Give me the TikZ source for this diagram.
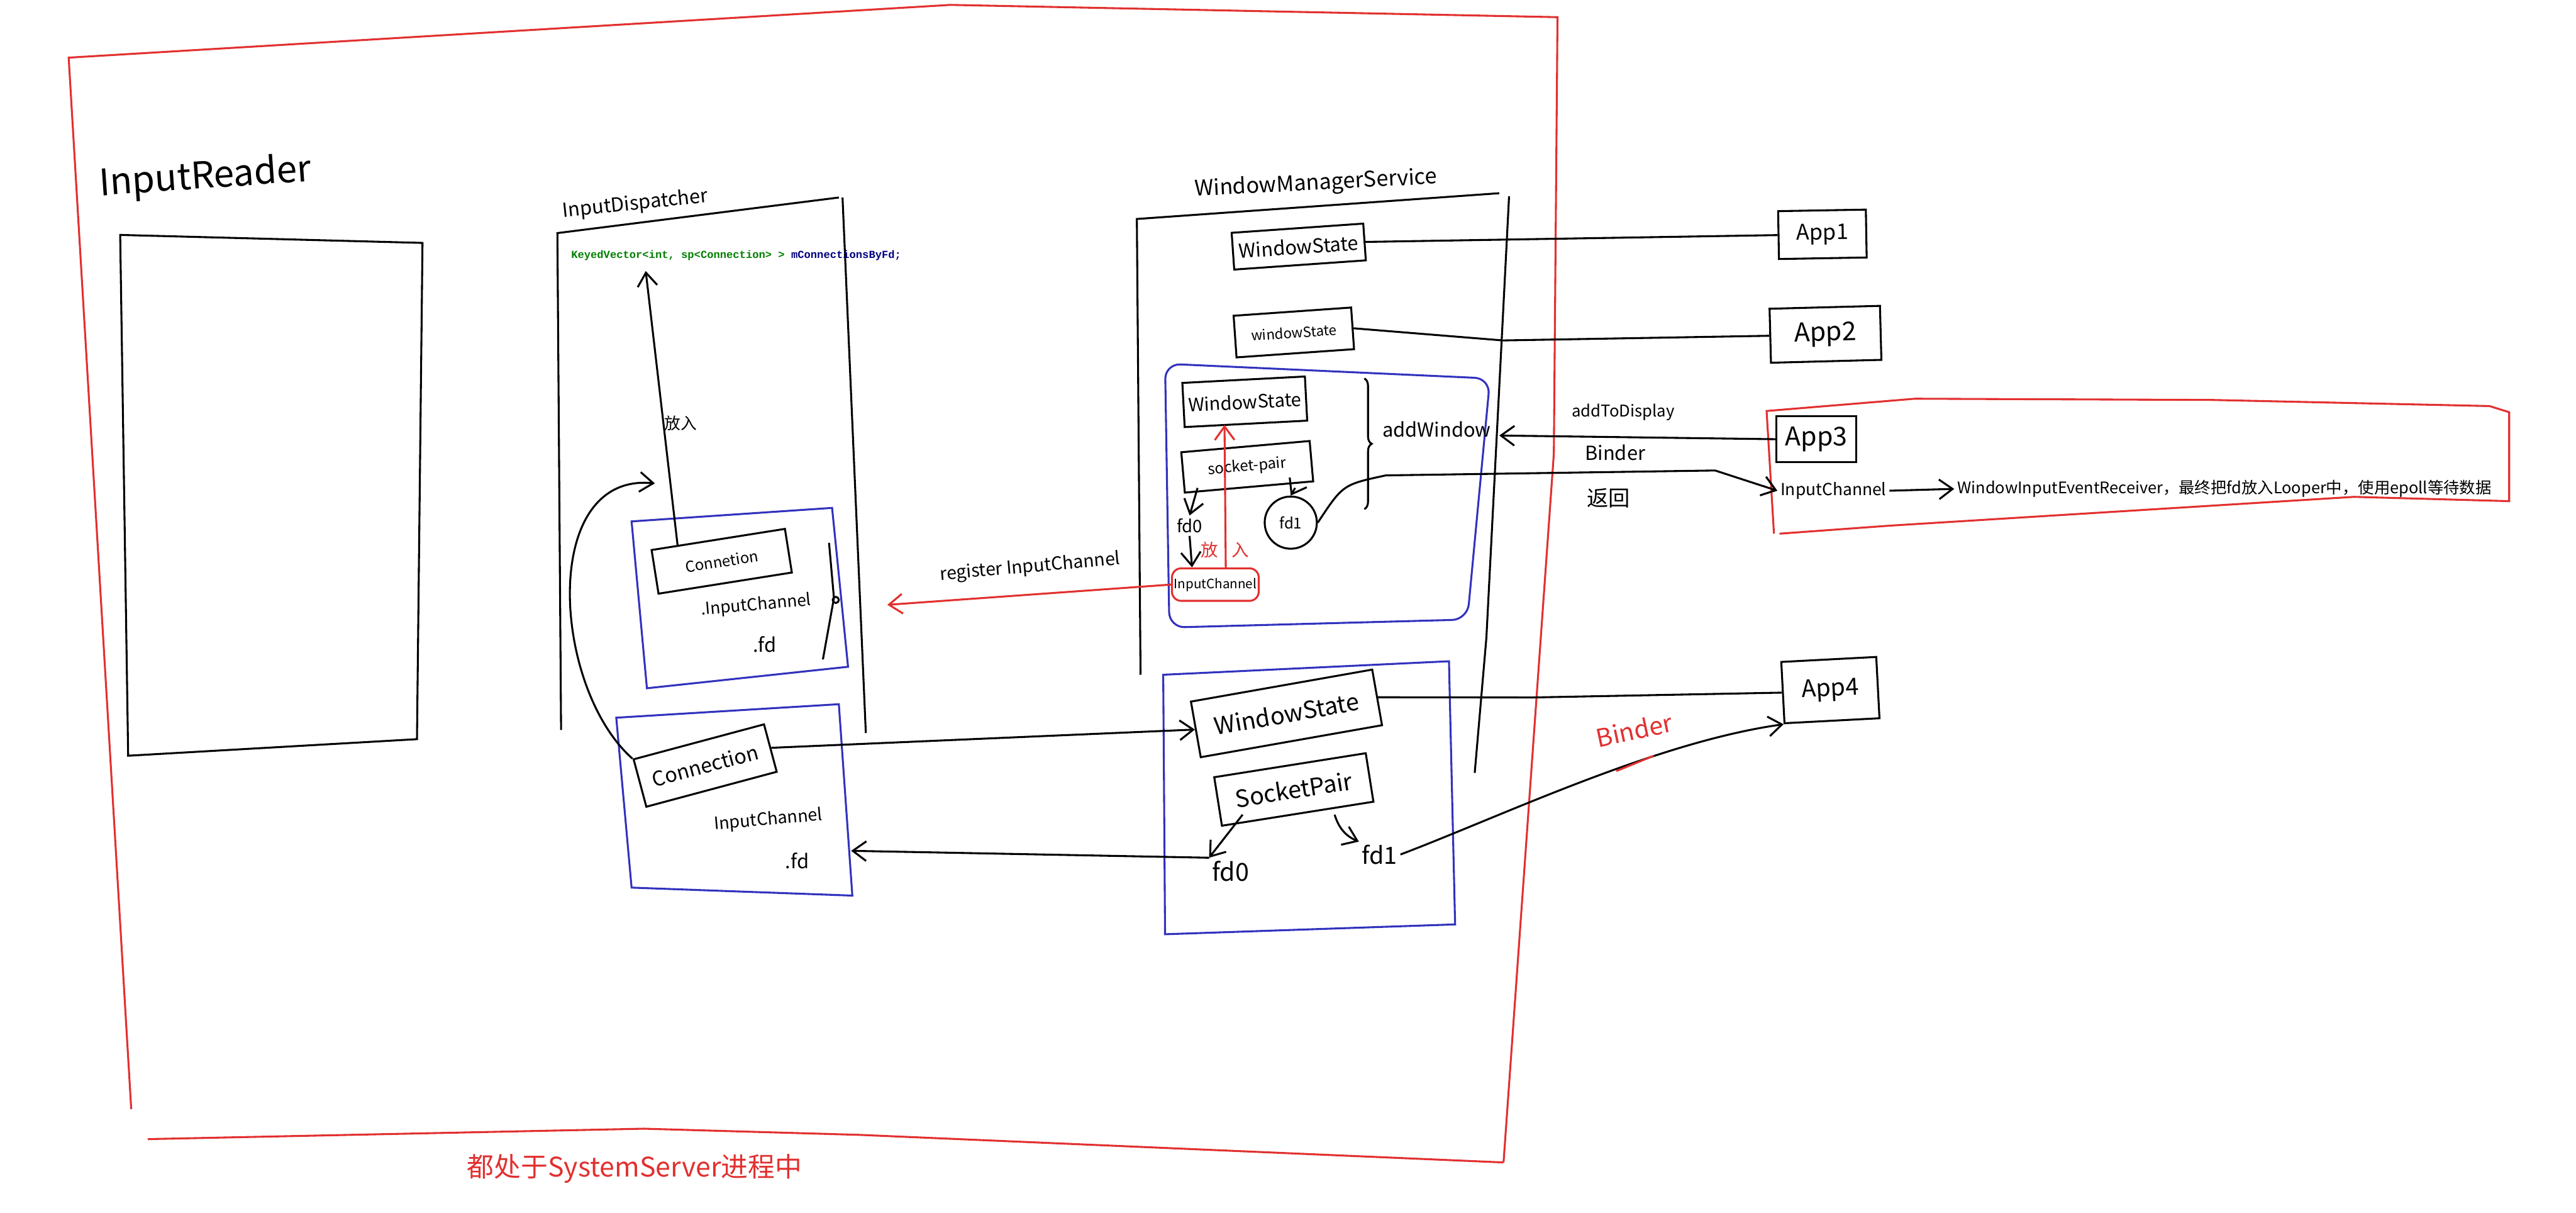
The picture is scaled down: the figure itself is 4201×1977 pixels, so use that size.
\documentclass[tikz,border=0pt]{standalone}
\usepackage{fontspec}
\setmainfont{Noto Sans CJK SC}
\setmonofont{Liberation Mono}
\usetikzlibrary{arrows.meta,calc,decorations.pathreplacing}
\definecolor{penred}{RGB}{226,48,48}
\definecolor{penblue}{RGB}{50,50,190}
\definecolor{codegreen}{RGB}{0,128,0}
\definecolor{codenavy}{RGB}{0,0,128}
\tikzset{
  pen/.style={font=\fontsize{#1}{#1}\selectfont, inner sep=1pt},
  wbox/.style n args={2}{draw, minimum width=#1, minimum height=#2, inner sep=0pt},
}

\begin{document}
\begin{tikzpicture}[x=0.01cm, y=-0.01cm, line width=0.9pt,
  >={Straight Barb[length=2.2mm,width=3.2mm]}]
\useasboundingbox (0,0) rectangle (4201,1977);

% SystemServer process
\draw[penred] (214,1808) -- (112,94) -- (1550,8) -- (2540,28) -- (2534,740) -- (2452,1895);
\draw[penred] (2452,1895) -- (1400,1850) -- (1050,1840) -- (241,1857);
\node[pen=12.5, text=penred] (proc) at (1035,1905) {都处于SystemServer进程中};

% InputReader
\draw (196,383) -- (689,396) -- (680,1205) -- (209,1232) -- cycle;
\node[pen=17, rotate=4] (readerlbl) at (335,290) {InputReader};

% InputDispatcher
\draw (915,1190) -- (909,380) -- (1368,322);
\draw (1374,322) -- (1412,1195);
\node[pen=9, rotate=6] (displbl) at (1036,333) {InputDispatcher};
\node[anchor=west, inner sep=0pt, font=\fontsize{5.0}{6}\ttfamily\bfseries] (code) at (930,417)
  {\textcolor{codegreen}{KeyedVector<int, sp<Connection> >} \textcolor{codenavy}{mConnectionsByFd;}};

\draw[penblue] (1030,850) -- (1357,828) -- (1383,1087) -- (1055,1122) -- cycle;
\node[wbox={2.2cm}{0.72cm}, rotate=9, pen=7] (conn1) at (1177,915) {Connetion};
\node[pen=7.7, rotate=5] (ich1) at (1233,987) {.InputChannel};
\node[pen=9] (fdA) at (1247,1050) {.fd};
\draw (1352,885) -- (1360,975) -- (1342,1075);
\draw (1363,978) circle (5);
\draw[->] ($(conn1.north west)!0.2!(conn1.north east)$) -- ([xshift=1.23cm,yshift=-0.15cm]code.south west);
\node[pen=7.5] (putin1) at (1110,690) {放入};

\draw[penblue] (1005,1170) -- (1368,1148) -- (1390,1460) -- (1030,1447) -- cycle;
\node[wbox={2.2cm}{0.8cm}, rotate=15, pen=9.4] (conn2) at (1150,1248) {Connection};
\node[pen=7.9, rotate=5] (ich2) at (1253,1337) {InputChannel};
\node[pen=9] (fdB) at (1300,1403) {.fd};
\coordinate (g1in) at (1068,788);
\draw[->] (conn2.north west) .. controls (900,1120) and (880,770) .. (g1in);

% WindowManagerService
\draw (1860,1100) -- (1854,357) -- (2445,315);
\draw (2461,320) -- (2424,1040) -- (2405,1260);
\node[pen=10, rotate=3] (wmslbl) at (2146,300) {WindowManagerService};
\node[wbox={2.15cm}{0.6cm}, rotate=4, pen=9] (ws1) at (2118,402) {WindowState};
\node[wbox={1.92cm}{0.68cm}, rotate=4, pen=6.5] (ws2) at (2110,542) {windowState};

\draw[penblue, rounded corners=0.25cm] (1900,593) -- (2430,617) -- (2393,1010) -- (1907,1023) -- cycle;
\node[wbox={2.0cm}{0.72cm}, rotate=3, pen=8.5] (ws3) at (2030,655) {WindowState};
\node[wbox={2.1cm}{0.66cm}, rotate=5, pen=7] (sp1) at (2034,761) {socket-pair};
\node[pen=8] (fd0) at (1940,857) {fd0};
\node[draw=penred, rounded corners=0.15cm, pen=6, minimum width=1.34cm, minimum height=0.53cm] (ic1) at (1982,953) {InputChannel};
\node[draw, circle, pen=7, minimum size=0.85cm, inner sep=0pt] (fd1) at (2105,852) {fd1};
\draw[decorate, decoration={brace, amplitude=0.12cm}] (2225,617) -- (2225,830);
\node[pen=9] (addwin) at (2343,700) {addWindow};
\draw[->] ([xshift=-0.84cm]sp1.south) -- (fd0.north);
\draw[->] (fd0.south) -- ([xshift=-0.38cm]ic1.north);
\draw[->] ([xshift=0.75cm]sp1.south) -- (fd1.north);
\draw[penred, ->] ([xshift=0.17cm]ic1.north) -- ([xshift=-0.35cm]ws3.south);
\node[pen=8, text=penred] (putin2) at (1998,897) {放\hspace{0.22cm}入};
\coordinate (reg) at (1447,986);
\draw[penred, ->] (ic1.west) -- (reg);
\node[pen=8.3, rotate=5] (reglbl) at (1680,925) {register InputChannel};

\draw[penblue] (1897,1100) -- (2363,1078) -- (2373,1507) -- (1900,1523) -- cycle;
\node[wbox={3.0cm}{0.92cm}, rotate=10, pen=11] (ws4) at (2098,1163) {WindowState};
\node[wbox={2.5cm}{0.8cm}, rotate=9, pen=11] (sp2) at (2110,1287) {SocketPair};
\node[pen=11.5] (fd0b) at (2007,1420) {fd0};
\node[pen=11] (fd1b) at (2250,1393) {fd1};
\draw[->] ([xshift=-0.9cm]sp2.south) -- (fd0b.north west);
\draw[->] ([xshift=0.6cm]sp2.south) to[bend right=25] (fd1b.north west);
\draw[->] (conn2.east) -- (ws4.west);
\coordinate (fd2in) at (1388,1387);
\draw[->] (fd0b.north west) -- (fd2in);

% Apps
\node[wbox={1.43cm}{0.78cm}, rotate=1, pen=10] (app1) at (2972,382) {App1};
\node[wbox={1.8cm}{0.88cm}, rotate=1.5, pen=12] (app2) at (2977,545) {App2};
\node[wbox={1.3cm}{0.75cm}, pen=12] (app3) at (2962,716) {App3};
\node[wbox={1.55cm}{1.0cm}, rotate=3, pen=11] (app4) at (2985,1125) {App4};
\draw (ws1.east) -- (app1.west);
\draw (ws2.east) -- (2451,555) -- (app2.west);
\draw (ws4.east) -- (2500,1137) -- (app4.west);
\draw[->] (fd1b.east) .. controls (2450,1330) and (2700,1210) .. (app4.south west);
\node[pen=11.5, text=penred, rotate=12] (binder2) at (2665,1190) {Binder};
\draw[penred] (2636,1257) -- (2697,1232);

% App3 process
\draw[penred] (2893,870) -- (2881,670) -- (3123,650) -- (3607,652) -- (4060,662) -- (4092,672)
  -- (4092,817) -- (3839,810) -- (3081,857) -- (2902,870);
\coordinate (addin) at (2445,710);
\draw[->] (app3.west) -- (addin);
\node[pen=7.5] (addlbl) at (2647,672) {addToDisplay};
\node[pen=9] (binder1) at (2634,738) {Binder};
\node[pen=7.7] (ic2) at (2990,800) {InputChannel};
\node[pen=7.4, anchor=west] (recv) at (3187,797) {WindowInputEventReceiver，最终把fd放入Looper中，使用epoll等待数据};
\draw[->] (ic2.east) -- (recv.west);
\draw[->] (fd1.east) .. controls (2190,790) .. (2260,775) -- (2797,767) -- (ic2.west);
\node[pen=10] (back) at (2623,812) {返回};
\end{tikzpicture}
\end{document}
